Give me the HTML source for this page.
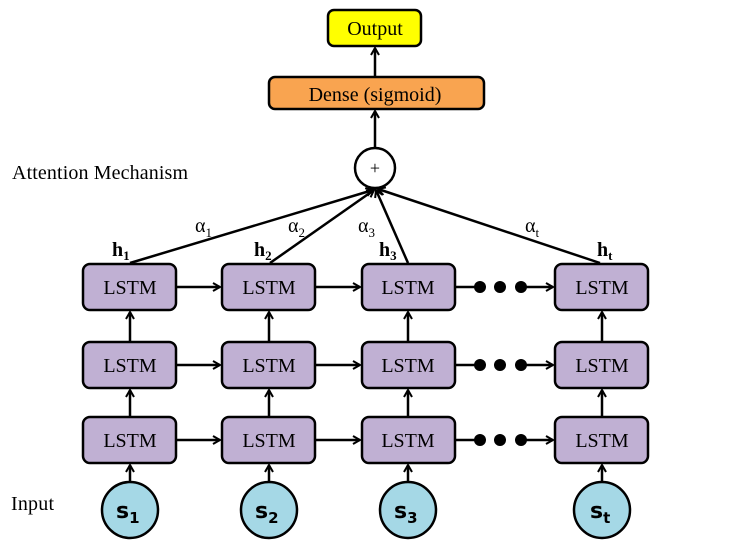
<!DOCTYPE html>
<html><head><meta charset="utf-8"><style>
html,body{margin:0;padding:0;background:#fff;width:747px;height:545px;overflow:hidden}
svg text{font-family:"Liberation Serif",serif}
</style></head><body>
<svg width="747" height="545" viewBox="0 0 747 545" xmlns="http://www.w3.org/2000/svg">
<defs>
<marker id="a" markerWidth="10" markerHeight="10" refX="8" refY="5" orient="auto" markerUnits="userSpaceOnUse">
<path d="M1,1 L8,5 L1,9" fill="none" stroke="#000" stroke-width="2"/>
</marker>
</defs>
<g stroke="#000" stroke-width="2.5" fill="none">
<rect x="328" y="10" width="93" height="36" rx="6" fill="#ffff00"/>
<rect x="269" y="77" width="215" height="32" rx="6" fill="#f9a450"/>
<line x1="375" y1="77" x2="375" y2="48" marker-end="url(#a)"/>
<line x1="375" y1="148" x2="375" y2="111" marker-end="url(#a)"/>
<circle cx="375" cy="168" r="20" fill="#fff"/>
<line x1="130" y1="263" x2="373" y2="190" marker-end="url(#a)"/>
<line x1="270" y1="263" x2="374" y2="190" marker-end="url(#a)"/>
<line x1="408" y1="263" x2="376" y2="190" marker-end="url(#a)"/>
<line x1="600" y1="263" x2="378" y2="189" marker-end="url(#a)"/>
</g>
<g stroke="#000" stroke-width="2.5">
<g fill="none">
<line x1="177" y1="287" x2="220" y2="287" marker-end="url(#a)"/>
<line x1="316" y1="287" x2="360" y2="287" marker-end="url(#a)"/>
<line x1="456" y1="287" x2="480" y2="287"/>
<line x1="522" y1="287" x2="553" y2="287" marker-end="url(#a)"/>
<line x1="177" y1="365" x2="220" y2="365" marker-end="url(#a)"/>
<line x1="316" y1="365" x2="360" y2="365" marker-end="url(#a)"/>
<line x1="456" y1="365" x2="480" y2="365"/>
<line x1="522" y1="365" x2="553" y2="365" marker-end="url(#a)"/>
<line x1="177" y1="440" x2="220" y2="440" marker-end="url(#a)"/>
<line x1="316" y1="440" x2="360" y2="440" marker-end="url(#a)"/>
<line x1="456" y1="440" x2="480" y2="440"/>
<line x1="522" y1="440" x2="553" y2="440" marker-end="url(#a)"/>
<line x1="130" y1="342" x2="130" y2="312" marker-end="url(#a)"/>
<line x1="269" y1="342" x2="269" y2="312" marker-end="url(#a)"/>
<line x1="408" y1="342" x2="408" y2="312" marker-end="url(#a)"/>
<line x1="602" y1="342" x2="602" y2="312" marker-end="url(#a)"/>
<line x1="130" y1="417" x2="130" y2="390" marker-end="url(#a)"/>
<line x1="269" y1="417" x2="269" y2="390" marker-end="url(#a)"/>
<line x1="408" y1="417" x2="408" y2="390" marker-end="url(#a)"/>
<line x1="602" y1="417" x2="602" y2="390" marker-end="url(#a)"/>
<line x1="130" y1="483" x2="130" y2="465" marker-end="url(#a)"/>
<line x1="269" y1="483" x2="269" y2="465" marker-end="url(#a)"/>
<line x1="408" y1="483" x2="408" y2="465" marker-end="url(#a)"/>
<line x1="602" y1="483" x2="602" y2="465" marker-end="url(#a)"/>
</g>
<g fill="#000" stroke="none">
<circle cx="480" cy="287" r="6"/><circle cx="500" cy="287" r="6"/><circle cx="521" cy="287" r="6"/>
<circle cx="480" cy="365" r="6"/><circle cx="500" cy="365" r="6"/><circle cx="521" cy="365" r="6"/>
<circle cx="480" cy="440" r="6"/><circle cx="500" cy="440" r="6"/><circle cx="521" cy="440" r="6"/>
</g>
<g fill="#c0b0d3">
<rect x="83" y="264" width="93" height="46" rx="7"/>
<rect x="222" y="264" width="93" height="46" rx="7"/>
<rect x="362" y="264" width="93" height="46" rx="7"/>
<rect x="555" y="264" width="93" height="46" rx="7"/>
<rect x="83" y="342" width="93" height="46" rx="7"/>
<rect x="222" y="342" width="93" height="46" rx="7"/>
<rect x="362" y="342" width="93" height="46" rx="7"/>
<rect x="555" y="342" width="93" height="46" rx="7"/>
<rect x="83" y="417" width="93" height="46" rx="7"/>
<rect x="222" y="417" width="93" height="46" rx="7"/>
<rect x="362" y="417" width="93" height="46" rx="7"/>
<rect x="555" y="417" width="93" height="46" rx="7"/>
</g>
<g fill="#a5d8e6">
<ellipse cx="130" cy="510" rx="28" ry="28"/>
<ellipse cx="269" cy="510" rx="28" ry="28"/>
<ellipse cx="408" cy="510" rx="28" ry="28"/>
<ellipse cx="602" cy="510" rx="28" ry="28"/>
</g>
</g>
<g font-size="20" text-anchor="middle" fill="#000">
<text x="375" y="35">Output</text>
<text x="375" y="101">Dense (sigmoid)</text>
<text x="375" y="174" font-size="18">+</text>
<text x="130" y="294">LSTM</text><text x="269" y="294">LSTM</text><text x="408" y="294">LSTM</text><text x="602" y="294">LSTM</text>
<text x="130" y="372">LSTM</text><text x="269" y="372">LSTM</text><text x="408" y="372">LSTM</text><text x="602" y="372">LSTM</text>
<text x="130" y="447">LSTM</text><text x="269" y="447">LSTM</text><text x="408" y="447">LSTM</text><text x="602" y="447">LSTM</text>
</g>
<g font-size="20" fill="#000">
<text x="12" y="179" textLength="176">Attention Mechanism</text>
<text x="11" y="510" textLength="43">Input</text>
<text x="195" y="232">α<tspan font-size="13" dy="5">1</tspan></text>
<text x="288" y="232">α<tspan font-size="13" dy="5">2</tspan></text>
<text x="358" y="232">α<tspan font-size="13" dy="5">3</tspan></text>
<text x="525" y="232">α<tspan font-size="13" dy="5">t</tspan></text>
<g font-weight="bold" font-size="20">
<text x="112" y="256">h<tspan font-size="13" dy="4">1</tspan></text>
<text x="254" y="256">h<tspan font-size="13" dy="4">2</tspan></text>
<text x="379" y="256">h<tspan font-size="13" dy="4">3</tspan></text>
<text x="597" y="256">h<tspan font-size="13" dy="4">t</tspan></text>
</g>
</g>
<g font-weight="bold" font-size="22" fill="#000">
<text x="116" y="518" style="font-family:'DejaVu Sans',sans-serif">s<tspan font-size="15" dy="5">1</tspan></text>
<text x="255" y="518" style="font-family:'DejaVu Sans',sans-serif">s<tspan font-size="15" dy="5">2</tspan></text>
<text x="394" y="518" style="font-family:'DejaVu Sans',sans-serif">s<tspan font-size="15" dy="5">3</tspan></text>
<text x="590" y="518" style="font-family:'DejaVu Sans',sans-serif">s<tspan font-size="15" dy="5">t</tspan></text>
</g>
</svg>
</body></html>
